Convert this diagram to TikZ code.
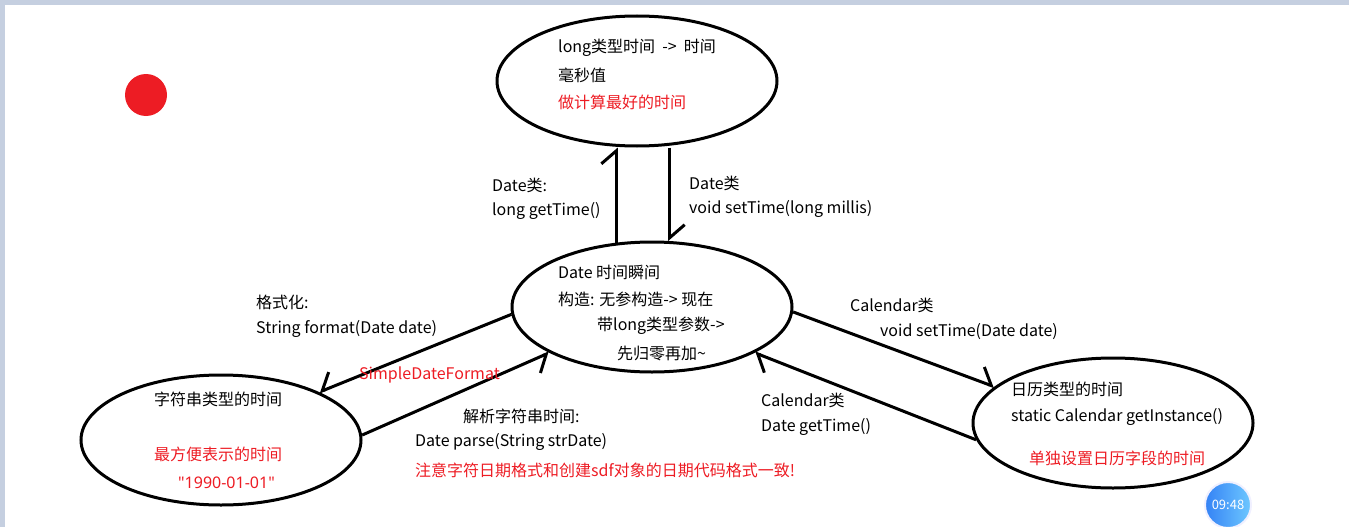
\documentclass[tikz,border=0pt]{standalone}
\usepackage{fontspec}
\setmainfont{Noto Sans CJK SC}
\newfontfamily\quotefont{Noto Sans}
\usetikzlibrary{shapes.geometric,arrows.meta}
\definecolor{paintred}{RGB}{237,28,36}
\definecolor{frameblue}{RGB}{197,207,224}
\definecolor{clockdark}{RGB}{52,130,245}
\definecolor{clocklight}{RGB}{110,200,255}

\begin{document}
\begin{tikzpicture}[x=1pt,y=-1pt,
    oval/.style={ellipse,draw=black,line width=3pt,minimum width=280pt,minimum height=130pt,inner sep=0pt},
    txt/.style={anchor=west,inner sep=0pt,font=\fontsize{16}{19}\selectfont},
    note/.style={txt,text=paintred},
    arrl/.style={line width=3pt,-{Straight Barb[left,length=13pt,width=30pt]}},
    arrr/.style={line width=3pt,-{Straight Barb[right,length=13pt,width=30pt]}}]

    \useasboundingbox (0,0) rectangle (1349,527);
    \fill[frameblue] (0,0) rectangle (1349,5);
    \fill[frameblue] (0,0) rectangle (5,527);

    \node[circle,fill=paintred,minimum size=42pt,inner sep=0pt] (dot) at (146,95) {};

    \node[oval] (msec) at (637,81) {};
    \node[oval] (date) at (652,307) {};
    \node[oval] (str) at (221,440) {};
    \node[oval] (cal) at (1113,423) {};

    % top ellipse
    \node[txt] (msecA) at (558,48) {long类型时间 \ -> \ 时间};
    \node[txt] (msecB) at (558,75) {毫秒值};
    \node[note] (msecC) at (558,102) {做计算最好的时间};

    % centre ellipse
    \node[txt] (dateA) at (558,272) {Date 时间瞬间};
    \node[txt] (dateB) at (558,299) {构造: 无参构造-> 现在};
    \node[txt] (dateC) at (597,326) {带long类型参数->};
    \node[txt] (dateD) at (617,353) {先归零再加\textasciitilde};

    % left ellipse
    \node[txt] (strA) at (154,399) {字符串类型的时间};
    \node[note] (strB) at (154,454) {最方便表示的时间};
    \node[note] (strC) at (178,483) {\quotefont\symbol{34}1990-01-01\symbol{34}};

    % right ellipse
    \node[txt] (calA) at (1011,389) {日历类型的时间};
    \node[txt] (calB) at (1011,417) {static Calendar getInstance()};
    \node[note] (calC) at (1029,458) {单独设置日历字段的时间};

    \draw[arrl] (date.119) -- (date.119 |- msec.south);
    \draw[arrl] (date.75 |- msec.south) -- (date.75);
    \draw[arrr] (date.183) -- (str.26);
    \draw[arrr] (str.2) -- (date.204);
    \draw[arrl] (date.-2) -- (cal.163);
    \draw[arrl] (cal.187) -- (date.-24);

    \node[txt] (getA) at (492,185) {Date类:};
    \node[txt] (getB) at (492,211) {long getTime()};
    \node[txt] (setA) at (689,183) {Date类};
    \node[txt] (setB) at (689,209) {void setTime(long millis)};
    \node[txt] (fmtA) at (256,302) {格式化:};
    \node[txt] (fmtB) at (256,329) {String format(Date date)};
    \node[note] (sdf) at (359,375) {SimpleDateFormat};
    \node[txt] (parA) at (463,416) {解析字符串时间:};
    \node[txt] (parB) at (415,442) {Date parse(String strDate)};
    \node[note] (parC) at (415,470) {注意字符日期格式和创建sdf对象的日期代码格式一致!};
    \node[txt] (csetA) at (850,305) {Calendar类};
    \node[txt] (csetB) at (880,332) {void setTime(Date date)};
    \node[txt] (cgetA) at (761,400) {Calendar类};
    \node[txt] (cgetB) at (761,427) {Date getTime()};

    \node[circle,draw=blue!6,line width=2pt,minimum size=46pt,inner sep=0pt,
        left color=clockdark,right color=clocklight,text=white,
        font=\fontsize{13}{15}\selectfont] (clock) at (1228,505) {09:48};

\end{tikzpicture}
\end{document}
